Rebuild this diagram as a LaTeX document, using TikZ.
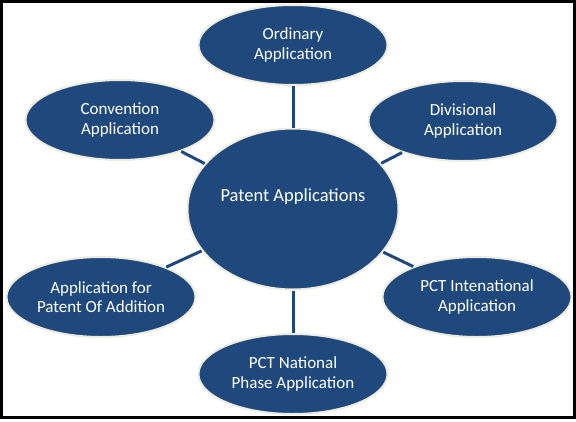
\documentclass[tikz,border=0pt]{standalone}
\usepackage{fontspec}
\setmainfont{Carlito}
\usetikzlibrary{shapes.geometric}
\definecolor{appblue}{HTML}{1F497D}
\definecolor{appline}{HTML}{EEECE1}
\tikzset{
  appnode/.style={ellipse,fill=appblue,draw=appline,line width=2pt,inner sep=0pt,
    minimum width=189pt,minimum height=80pt,align=center,text=white,
    font=\fontsize{17}{19.5}\selectfont},
  link/.style={draw=appblue,line width=3pt}
}
\begin{document}
\begin{tikzpicture}[x=1pt,y=-1pt]
\useasboundingbox (0,0) rectangle (576,421);
\draw[line width=3pt](1.5,1.5) rectangle (574.5,417.5);
% centre
\node[appnode,minimum width=211pt,minimum height=161pt,
  label={[text=white,font=\fontsize{18.5}{21}\selectfont,yshift=12pt]center:Patent Applications}]
  (patent) at (293,209){};
% outer ring
\node[appnode] (ordinary) at (293,45){Ordinary\\Application};
\node[appnode] (conv) at (120,120){Convention\\Application};
\node[appnode] (div) at (463,121){Divisional\\Application};
\node[appnode] (addn) at (101,297){Application for\\Patent Of Addition};
\node[appnode] (pcti) at (477,297){PCT Intenational\\Application};
\node[appnode] (pctn) at (293,374){PCT National\\Phase Application};
\draw[link](patent)--(ordinary);
\draw[link](patent)--(conv);
\draw[link](patent)--(div);
\draw[link](patent)--(addn);
\draw[link](patent)--(pcti);
\draw[link](patent)--(pctn);
\end{tikzpicture}
\end{document}
